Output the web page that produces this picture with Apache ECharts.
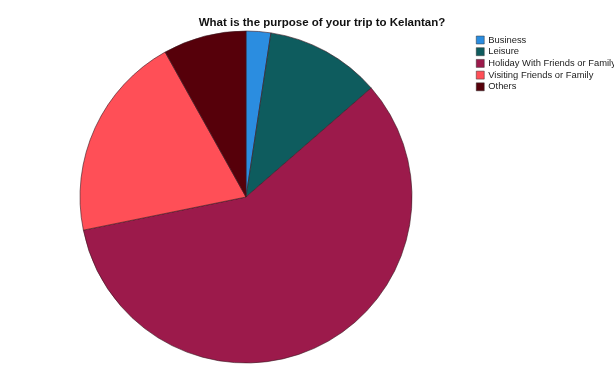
<!DOCTYPE html>
<html><head><meta charset="utf-8">
<script src="https://cdn.jsdelivr.net/npm/echarts@6/dist/echarts.min.js"></script>
<style>html,body{margin:0;padding:0;background:#fff}#c{width:614px;height:367px}</style>
</head><body><div id="c"></div>
<script>
const categories = ["Business", "Leisure", "Holiday With Friends or Family", "Visiting Friends or Family", "Others"];
const values = [2.4, 11.2, 58.2, 20.1, 8.1];
const colors = ["#2b8de0", "#0e5c5e", "#9c1a4b", "#ff4f57", "#56000a"];
const chart = echarts.init(document.getElementById('c'));
chart.setOption({
  animation: false,
  title: {
    text: "What is the purpose of your trip to Kelantan?",
    left: 322, top: 16, textAlign: 'center', padding: 0,
    textStyle: {fontFamily: 'Liberation Sans, Arial', fontSize: 11.5, fontWeight: 'bold', color: '#111', lineHeight: 13}
  },
  legend: {
    orient: 'vertical', left: 476, top: 35.5, padding: 0,
    itemWidth: 8, itemHeight: 8, itemGap: 2.7, icon: 'rect',
    itemStyle: {borderColor: '#333', borderWidth: 0.5},
    textStyle: {fontFamily: 'Liberation Sans, Arial', fontSize: 9.4, color: '#222', lineHeight: 8, padding: [0,0,0,-1]},
    data: categories
  },
  series: [{
    type: 'pie',
    center: [246, 197], radius: 166,
    startAngle: 90, clockwise: true,
    label: {show: false}, labelLine: {show: false},
    itemStyle: {borderColor: '#3a1a22', borderWidth: 0.6},
    emphasis: {disabled: true},
    data: categories.map((n, i) => ({name: n, value: values[i], itemStyle: {color: colors[i]}}))
  }]
});
</script></body></html>
